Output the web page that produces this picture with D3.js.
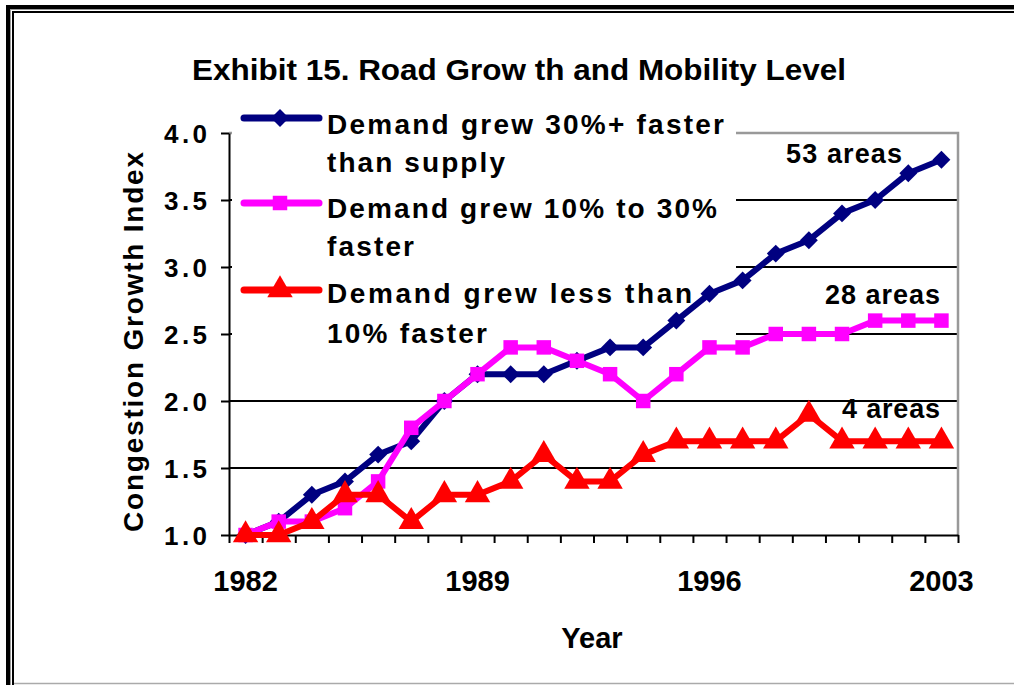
<!DOCTYPE html>
<html lang="en">
<head>
<meta charset="UTF-8">
<title>Road Growth and Mobility Level</title>
<script src="https://d3js.org/d3.v7.min.js"></script>
<style>
  body { margin: 0; background: #fff; }
  svg text { font-family: "Liberation Sans", Arial, sans-serif; font-weight: bold; fill: #000; }
</style>
</head>
<body>
<div id="chart"></div>
<script>
  // data
  const years = d3.range(1982, 2004);
  const fastGrowth = [1.0, 1.1, 1.3, 1.4, 1.6, 1.7, 2.0, 2.2, 2.2, 2.2, 2.3, 2.4, 2.4, 2.6, 2.8, 2.9, 3.1, 3.2, 3.4, 3.5, 3.7, 3.8];
  const midGrowth = [1.0, 1.1, 1.1, 1.2, 1.4, 1.8, 2.0, 2.2, 2.4, 2.4, 2.3, 2.2, 2.0, 2.2, 2.4, 2.4, 2.5, 2.5, 2.5, 2.6, 2.6, 2.6];
  const slowGrowth = [1.0, 1.0, 1.1, 1.3, 1.3, 1.1, 1.3, 1.3, 1.4, 1.6, 1.4, 1.4, 1.6, 1.7, 1.7, 1.7, 1.7, 1.9, 1.7, 1.7, 1.7, 1.7];
  const yTicks = [1.0, 1.5, 2.0, 2.5, 3.0, 3.5, 4.0];
  const xLabels = [1982, 1989, 1996, 2003];
  const seriesNames = [
    ["Demand grew 30%+ faster", "than supply"],
    ["Demand grew 10% to 30%", "faster"],
    ["Demand grew less than", "10% faster"]
  ];
  const areaLabels = ["53 areas", "28 areas", "4 areas"];
  const colors = ["#000080", "#ff00ff", "#ff0000"];
  // diamond = square turned 45deg
  const shapes = [d3.symbolSquare, d3.symbolSquare, d3.symbolTriangle];
  const turns = [45, 0, 0];

  const W = 1014, H = 685;
  const pLeft = 229, pRight = 958, pTop = 133, pBottom = 535;

  const svg = d3.select("#chart").append("svg")
    .attr("width", W).attr("height", H);

  // double frame
  svg.append("rect").attr("x", 8).attr("y", 7).attr("width", 1200).attr("height", 900)
    .attr("fill", "none").attr("stroke", "#000").attr("stroke-width", 4);
  svg.append("rect").attr("x", 10.5).attr("y", 9.5).attr("width", 1200).attr("height", 900)
    .attr("fill", "none").attr("stroke", "#999").attr("stroke-width", 1);
  svg.append("rect").attr("x", 13).attr("y", 12).attr("width", 1200).attr("height", 900)
    .attr("fill", "none").attr("stroke", "#000").attr("stroke-width", 2);
  svg.append("line").attr("x1", 14).attr("x2", W).attr("y1", 683.5).attr("y2", 683.5)
    .attr("stroke", "#aaa").attr("stroke-width", 1.5);

  const x = d3.scaleLinear().domain([1981.5, 2003.5]).range([pLeft, pRight]);
  const y = d3.scaleLinear().domain([1, 4]).range([pBottom, pTop]);

  // gridlines
  svg.append("g").selectAll("line").data(yTicks.filter(v => v > 1 && v < 4)).join("line")
    .attr("x1", pLeft).attr("x2", pRight)
    .attr("y1", d => y(d)).attr("y2", d => y(d))
    .attr("stroke", "#000").attr("stroke-width", 2);
  // plot border (top / right)
  svg.append("path")
    .attr("d", `M${pLeft},${pTop}H${pRight}V${pBottom}`)
    .attr("fill", "none").attr("stroke", "#999").attr("stroke-width", 2.5);

  // legend background hides grid behind it
  svg.append("rect").attr("x", 232).attr("y", 100).attr("width", 504).attr("height", 250)
    .attr("fill", "#fff");

  // title
  svg.append("text").attr("x", 519).attr("y", 80).attr("text-anchor", "middle")
    .attr("font-size", 30).attr("textLength", 654).attr("lengthAdjust", "spacingAndGlyphs")
    .text("Exhibit 15.  Road Grow th and Mobility Level");

  // y axis
  const yAxis = svg.append("g").attr("transform", `translate(${pLeft},0)`)
    .call(d3.axisLeft(y).tickValues(yTicks).tickFormat(d3.format(".1f")).tickSize(8).tickSizeOuter(0));
  yAxis.select(".domain").attr("stroke", "#000").attr("stroke-width", 2);
  yAxis.selectAll(".tick line").attr("stroke", "#000").attr("stroke-width", 2);
  yAxis.selectAll(".tick text").attr("font-size", 26).attr("x", -22).attr("dy", "0.36em")
    .attr("textLength", 43).attr("lengthAdjust", "spacing")
    .style("font-family", "Liberation Sans").style("font-weight", "bold");

  // x axis: boundary ticks, then labels
  const xAxis = svg.append("g").attr("transform", `translate(0,${pBottom})`)
    .call(d3.axisBottom(x).tickValues(d3.range(1981.5, 2004, 1)).tickFormat("").tickSize(8).tickSizeOuter(0));
  xAxis.select(".domain").attr("stroke", "#000").attr("stroke-width", 2);
  xAxis.selectAll(".tick line").attr("stroke", "#000").attr("stroke-width", 2);

  svg.append("g").selectAll("text").data(xLabels).join("text")
    .attr("x", d => x(d)).attr("y", 591).attr("text-anchor", "middle")
    .attr("font-size", 29).text(d => d);

  svg.append("text").attr("x", 592).attr("y", 648).attr("text-anchor", "middle")
    .attr("font-size", 29).text("Year");

  svg.append("text").attr("transform", "translate(143,342) rotate(-90)")
    .attr("text-anchor", "middle").attr("font-size", 28)
    .attr("textLength", 380).attr("lengthAdjust", "spacing")
    .text("Congestion Growth Index");

  // series
  const allSeries = [fastGrowth, midGrowth, slowGrowth];
  const line = d3.line().x((d, i) => x(years[i])).y(d => y(d));
  const symSizes = [160, 210, 280];

  allSeries.forEach((vals, s) => {
    svg.append("path").datum(vals).attr("d", line)
      .attr("fill", "none").attr("stroke", colors[s]).attr("stroke-width", 6)
      .attr("stroke-linejoin", "round");
    svg.append("g").selectAll("path").data(vals).join("path")
      .attr("transform", (d, i) => `translate(${x(years[i])},${y(d)}) rotate(${turns[s]})`)
      .attr("d", d3.symbol().type(shapes[s]).size(symSizes[s]))
      .attr("fill", colors[s]);
  });

  // legend
  const legendY = [118, 203, 290];
  const textY = [[134, 172], [218, 256], [303, 343]];
  const textW = [[397, 178], [390, 87], [365, 160]];
  seriesNames.forEach((lines, s) => {
    svg.append("line").attr("x1", 244).attr("x2", 319)
      .attr("y1", legendY[s]).attr("y2", legendY[s])
      .attr("stroke", colors[s]).attr("stroke-width", 7).attr("stroke-linecap", "round");
    svg.append("path").attr("transform", `translate(280,${legendY[s]}) rotate(${turns[s]})`)
      .attr("d", d3.symbol().type(shapes[s]).size(symSizes[s])).attr("fill", colors[s]);
    lines.forEach((t, k) => {
      svg.append("text").attr("x", 327).attr("y", textY[s][k]).attr("font-size", 28)
        .attr("textLength", textW[s][k]).attr("lengthAdjust", "spacing").text(t);
    });
  });

  // end labels
  const areaY = [163, 304, 418];
  const areaX = [902, 940, 940];
  const areaW = [116, 115, 98];
  areaLabels.forEach((t, s) => {
    svg.append("text").attr("x", areaX[s] - areaW[s]).attr("y", areaY[s]).attr("font-size", 27)
      .attr("textLength", areaW[s]).attr("lengthAdjust", "spacing").text(t);
  });
</script>
</body>
</html>
